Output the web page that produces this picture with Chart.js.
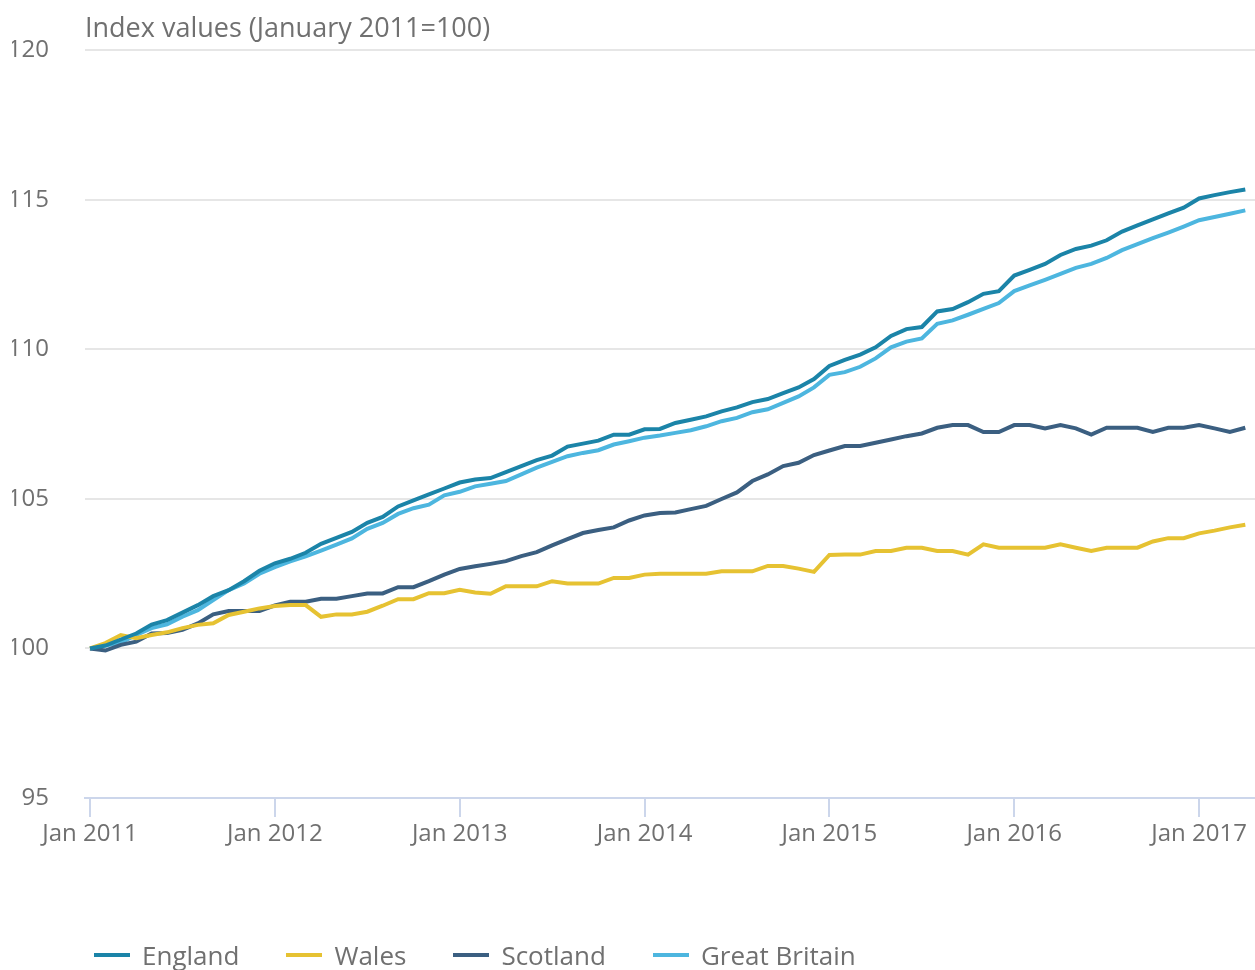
<!DOCTYPE html>
<html>
<head>
<meta charset="utf-8">
<script src="https://cdn.jsdelivr.net/npm/chart.js@4.4.1/dist/chart.umd.min.js"></script>
<style>
  html, body { margin: 0; padding: 0; background: #fff; }
  #wrap { position: relative; width: 1255px; height: 970px; font-family: "Open Sans", sans-serif; color: #707070; }
  #title { position: absolute; left: 85px; top: 10px; font-size: 27px; line-height: 34px; white-space: nowrap; }
  #legend { position: absolute; left: 94px; top: 937px; display: flex; align-items: center; font-size: 26px; line-height: 36px; }
  .item { display: flex; align-items: center; margin-right: 47px; }
  .swatch { width: 36px; height: 4px; margin-right: 12px; }
</style>
</head>
<body>
<div id="wrap">
  <canvas id="chart" width="1255" height="970"></canvas>
  <div id="title">Index values (January 2011=100)</div>
  <div id="legend"></div>
</div>
<script>
// Monthly index, Jan 2011 .. Apr 2017 (Jan 2011 = 100)
const seriesNames = ['England', 'Wales', 'Scotland', 'Great Britain'];
const seriesColors = ['#1b84a8', '#e6c232', '#3b5f81', '#4db6df'];

const england = [
  100.0, 100.1, 100.3, 100.5, 100.8, 100.95, 101.2, 101.45, 101.75, 101.95, 102.25, 102.6,
  102.85, 103.0, 103.2, 103.5, 103.7, 103.9, 104.2, 104.4, 104.75, 104.95, 105.15, 105.35,
  105.55, 105.65, 105.7, 105.9, 106.1, 106.3, 106.45, 106.75, 106.85, 106.95, 107.15, 107.15,
  107.33, 107.34, 107.54, 107.65, 107.76, 107.93, 108.06, 108.24, 108.34, 108.54, 108.73, 109.01,
  109.45, 109.65, 109.83, 110.07, 110.45, 110.68, 110.75, 111.27, 111.35, 111.58, 111.86, 111.95,
  112.47, 112.66, 112.86, 113.16, 113.36, 113.47, 113.65, 113.94, 114.15, 114.35, 114.55, 114.74,
  115.05, 115.16, 115.26, 115.35
];
const wales = [
  100.0, 100.18, 100.45, 100.34, 100.45, 100.54, 100.68, 100.79, 100.84, 101.12, 101.23, 101.34,
  101.42, 101.45, 101.45, 101.06, 101.14, 101.14, 101.23, 101.43, 101.65, 101.65, 101.85, 101.85,
  101.96, 101.87, 101.83, 102.08, 102.08, 102.08, 102.25, 102.17, 102.17, 102.17, 102.36, 102.36,
  102.47, 102.5, 102.5, 102.5, 102.5, 102.58, 102.58, 102.58, 102.76, 102.76, 102.67, 102.56,
  103.13, 103.14, 103.14, 103.26, 103.26, 103.37, 103.37, 103.26, 103.26, 103.14, 103.48, 103.37,
  103.37, 103.37, 103.37, 103.48, 103.37, 103.26, 103.37, 103.37, 103.37, 103.58, 103.69, 103.69,
  103.85, 103.94, 104.05, 104.14
];
const scotland = [
  100.0, 99.93, 100.12, 100.23, 100.5, 100.52, 100.62, 100.84, 101.14, 101.25, 101.25, 101.25,
  101.44, 101.56, 101.56, 101.66, 101.66, 101.75, 101.84, 101.84, 102.05, 102.05, 102.25, 102.47,
  102.66, 102.75, 102.83, 102.92, 103.09, 103.22, 103.45, 103.66, 103.86, 103.96, 104.05, 104.28,
  104.45, 104.53, 104.55, 104.66, 104.77, 105.0, 105.22, 105.6, 105.82, 106.1, 106.21, 106.47,
  106.62, 106.77, 106.77, 106.88, 106.99, 107.1, 107.19, 107.38, 107.47, 107.47, 107.24, 107.24,
  107.47, 107.47, 107.36, 107.47, 107.36, 107.15, 107.38, 107.38, 107.38, 107.24, 107.38, 107.38,
  107.47, 107.36, 107.24, 107.38
];
const greatBritain = [
  100.0, 100.1, 100.2, 100.45, 100.68, 100.81, 101.06, 101.28, 101.62, 101.95, 102.17, 102.5,
  102.72, 102.91, 103.08, 103.27, 103.47, 103.68, 104.0, 104.2, 104.5, 104.69, 104.81, 105.12,
  105.24, 105.42, 105.51, 105.6, 105.82, 106.05, 106.24, 106.43, 106.54, 106.63, 106.82, 106.93,
  107.05, 107.12, 107.21, 107.3, 107.43, 107.6, 107.71, 107.9, 108.0, 108.21, 108.43, 108.73,
  109.15, 109.24, 109.42, 109.7, 110.07, 110.26, 110.37, 110.86, 110.97, 111.16, 111.36, 111.55,
  111.95, 112.14, 112.33, 112.53, 112.73, 112.86, 113.06, 113.32, 113.52, 113.72, 113.91, 114.11,
  114.32, 114.43, 114.54, 114.65
];

const tickMonths = [0, 12, 24, 36, 48, 60, 72];
const tickLabels = ['Jan 2011', 'Jan 2012', 'Jan 2013', 'Jan 2014', 'Jan 2015', 'Jan 2016', 'Jan 2017'];
const yTicks = [95, 100, 105, 110, 115, 120];

const allSeries = [england, wales, scotland, greatBritain];
const textColor = '#707070';
const font = { family: '"Open Sans", sans-serif', size: 24 };

const datasets = allSeries.map((vals, k) => ({
  label: seriesNames[k],
  data: vals.map((v, i) => ({ x: i, y: v })),
  borderColor: seriesColors[k],
  backgroundColor: seriesColors[k],
  borderWidth: 4,
  pointRadius: 0,
  tension: 0,
  order: k
}));

new Chart(document.getElementById('chart').getContext('2d'), {
  type: 'line',
  data: { datasets },
  options: {
    responsive: false,
    animation: false,
    layout: { padding: { left: 12, top: 45, right: 0, bottom: 112 } },
    plugins: { legend: { display: false }, tooltip: { enabled: false } },
    scales: {
      x: {
        type: 'linear',
        min: -0.325,
        max: 75.63,
        afterBuildTicks: s => { s.ticks = tickMonths.map(v => ({ value: v })); },
        afterFit: s => { s.height = 60; },
        ticks: {
          color: textColor, font, padding: 3, maxRotation: 0, autoSkip: false,
          callback: (v, i) => tickLabels[i]
        },
        grid: { drawOnChartArea: false, drawTicks: true, tickLength: 19, color: '#ccd6eb', lineWidth: 2 },
        border: { display: true, color: '#ccd6eb', width: 2 }
      },
      y: {
        min: 95,
        max: 120,
        afterBuildTicks: s => { s.ticks = yTicks.map(v => ({ value: v })); },
        afterFit: s => { s.width = 73; },
        ticks: { color: textColor, font, padding: 36 },
        grid: {
          drawTicks: false,
          color: c => (c.tick && c.tick.value === 95 ? 'rgba(0,0,0,0)' : '#e6e6e6'),
          lineWidth: 2
        },
        border: { display: false }
      }
    }
  }
});

// legend below the chart
const legendEl = document.getElementById('legend');
seriesNames.forEach((name, k) => {
  const item = document.createElement('div');
  item.className = 'item';
  item.innerHTML = '<span class="swatch" style="background:' + seriesColors[k] + '"></span><span>' + name + '</span>';
  legendEl.appendChild(item);
});
</script>
</body>
</html>
